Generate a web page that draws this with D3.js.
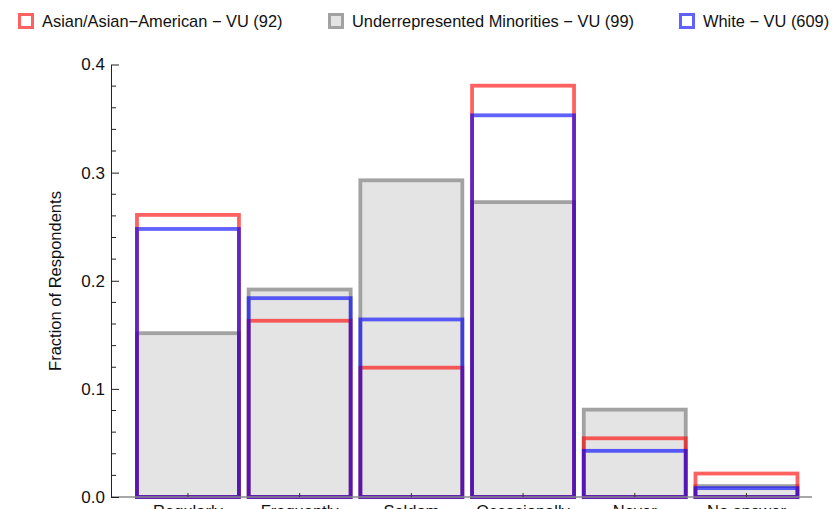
<!DOCTYPE html>
<html>
<head>
<meta charset="utf-8">
<script src="https://cdn.jsdelivr.net/npm/d3@7"></script>
<style>
  html, body { margin: 0; padding: 0; background: #fff; }
  svg { display: block; font-family: "Liberation Sans", Arial, sans-serif; }
</style>
</head>
<body>
<svg id="chart" width="837" height="509"></svg>
<script>
const categories = ["Regularly", "Frequently", "Seldom", "Occasionally", "Never", "No answer"];
const seriesNames = ["Asian/Asian\u2212American \u2212 VU (92)", "Underrepresented Minorities \u2212 VU (99)", "White \u2212 VU (609)"];
const asianValues = [0.2609, 0.1630, 0.1196, 0.3804, 0.0543, 0.0217];
const urmValues   = [0.1515, 0.1919, 0.2929, 0.2727, 0.0808, 0.0101];
const whiteValues = [0.2479, 0.1839, 0.1642, 0.3530, 0.0427, 0.0082];
const yTicks = [0.0, 0.1, 0.2, 0.3, 0.4];
const yMinorTicks = [0.02, 0.04, 0.06, 0.08, 0.12, 0.14, 0.16, 0.18, 0.22, 0.24, 0.26, 0.28, 0.32, 0.34, 0.36, 0.38];

const svg = d3.select("#chart");

const x = d3.scaleBand().domain(categories).range([132.1, 802.3]).paddingInner(0.087).paddingOuter(0.0435);
const y = d3.scaleLinear().domain([0, 0.4]).range([497, 64.5]);

const axisLeftX = 111;

const g = svg.append("g");
// Gray (URM) bars with fill
g.selectAll("rect.urm").data(urmValues).join("rect")
  .attr("class", "urm")
  .attr("x", (d, i) => x(categories[i]))
  .attr("y", d => y(d))
  .attr("width", x.bandwidth())
  .attr("height", d => y(0) - y(d))
  .attr("fill", "#e4e4e4")
  .attr("stroke", "#a2a2a2")
  .attr("stroke-width", 3.8);

// Red (Asian) outlines
g.selectAll("rect.asian").data(asianValues).join("rect")
  .attr("class", "asian")
  .attr("x", (d, i) => x(categories[i]))
  .attr("y", d => y(d))
  .attr("width", x.bandwidth())
  .attr("height", d => y(0) - y(d))
  .attr("fill", "none")
  .attr("stroke", "rgb(255,0,0)")
  .attr("stroke-opacity", 0.62)
  .attr("stroke-width", 3.8);

// Blue (White) outlines
g.selectAll("rect.white").data(whiteValues).join("rect")
  .attr("class", "white")
  .attr("x", (d, i) => x(categories[i]))
  .attr("y", d => y(d))
  .attr("width", x.bandwidth())
  .attr("height", d => y(0) - y(d))
  .attr("fill", "none")
  .attr("stroke", "rgb(0,0,255)")
  .attr("stroke-opacity", 0.62)
  .attr("stroke-width", 3.8);

// X axis line
svg.append("line")
  .attr("x1", axisLeftX).attr("x2", 812)
  .attr("y1", y(0)).attr("y2", y(0))
  .attr("stroke", "#8a8a8a").attr("stroke-width", 1.5);

// X ticks (pointing up) and labels
const xAxis = svg.append("g").attr("transform", `translate(0,${y(0)})`)
  .call(d3.axisBottom(x).tickSize(-4).tickPadding(8).tickSizeOuter(0));
xAxis.select(".domain").remove();
xAxis.selectAll(".tick line").attr("stroke", "#333").attr("stroke-width", 1);
xAxis.selectAll(".tick text")
  .attr("font-family", "Liberation Sans, Arial, sans-serif")
  .attr("font-size", 16.5).attr("fill", "#111");

// Y axis
const yAxis = svg.append("g").attr("transform", `translate(${axisLeftX},0)`)
  .call(d3.axisLeft(y).tickValues(yTicks).tickFormat(d3.format(".1f")).tickSize(-8).tickPadding(6).tickSizeOuter(0));
yAxis.select(".domain").attr("stroke", "#222").attr("stroke-width", 1);
yAxis.selectAll(".tick line").attr("stroke", "#222");
yAxis.selectAll(".tick text")
  .attr("font-family", "Liberation Sans, Arial, sans-serif")
  .attr("font-size", 17).attr("fill", "#111");

svg.append("g").selectAll("line").data(yMinorTicks).join("line")
  .attr("x1", axisLeftX).attr("x2", axisLeftX + 5)
  .attr("y1", d => y(d)).attr("y2", d => y(d))
  .attr("stroke", "#222").attr("stroke-width", 1);

// Y axis label
svg.append("text")
  .attr("transform", `translate(61,${281}) rotate(-90)`)
  .attr("text-anchor", "middle")
  .attr("font-size", 16.5)
  .attr("fill", "#111")
  .text("Fraction of Respondents");

// Legend
const legendItems = [
  { name: seriesNames[0], x: 18, stroke: "rgb(255,0,0)", op: 0.62, fill: "#fff" },
  { name: seriesNames[1], x: 328, stroke: "#a2a2a2", op: 1, fill: "#e4e4e4" },
  { name: seriesNames[2], x: 679, stroke: "rgb(0,0,255)", op: 0.62, fill: "#fff" }
];
const leg = svg.append("g").selectAll("g").data(legendItems).join("g")
  .attr("transform", d => `translate(${d.x},13)`);
leg.append("rect")
  .attr("x", 1.5).attr("y", 1.5).attr("width", 13).attr("height", 13)
  .attr("fill", d => d.fill)
  .attr("stroke", d => d.stroke).attr("stroke-opacity", d => d.op)
  .attr("stroke-width", 3);
leg.append("text")
  .attr("x", 24).attr("y", 14)
  .attr("font-size", 16.4).attr("fill", "#111")
  .text(d => d.name);
</script>
</body>
</html>
